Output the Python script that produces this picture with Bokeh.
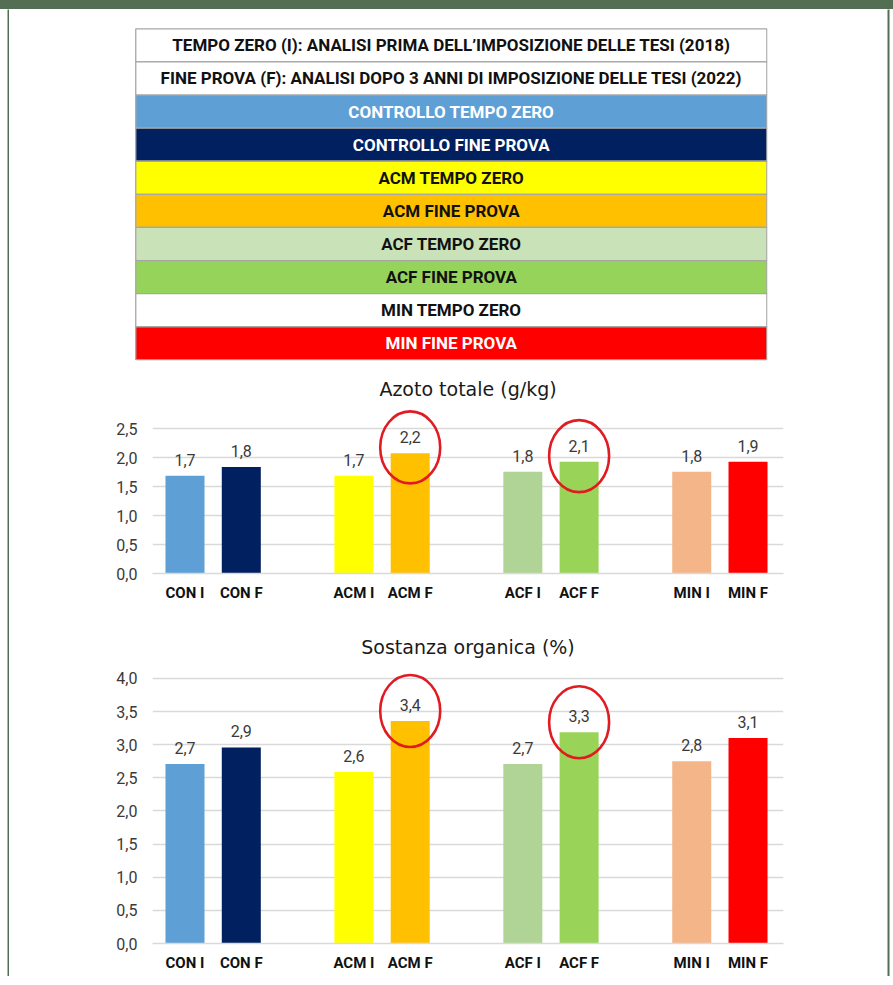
from bokeh.plotting import figure
from bokeh.layouts import column, row
from bokeh.models import Range1d, FixedTicker, ColumnDataSource, Div
from bokeh.embed import file_html
from bokeh.resources import INLINE
from bokeh.core.properties import value

# ---------------- data ----------------
table_labels = [
    "TEMPO ZERO (I): ANALISI PRIMA DELL\u2019IMPOSIZIONE DELLE TESI (2018)",
    "FINE PROVA (F): ANALISI DOPO 3 ANNI DI IMPOSIZIONE DELLE TESI (2022)",
    "CONTROLLO TEMPO ZERO",
    "CONTROLLO FINE PROVA",
    "ACM TEMPO ZERO",
    "ACM FINE PROVA",
    "ACF TEMPO ZERO",
    "ACF FINE PROVA",
    "MIN TEMPO ZERO",
    "MIN FINE PROVA",
]
table_fill = ["#FFFFFF", "#FFFFFF", "#5E9FD6", "#002060", "#FFFF00",
              "#FFC000", "#C9E2B8", "#96D35A", "#FFFFFF", "#FF0000"]
table_text_color = ["#111111", "#111111", "#FFFFFF", "#FFFFFF", "#111111",
                    "#111111", "#111111", "#111111", "#111111", "#FFFFFF"]

categories = ["CON I", "CON F", "ACM I", "ACM F", "ACF I", "ACF F", "MIN I", "MIN F"]
bar_colors = ["#5E9FD6", "#002060", "#FFFF00", "#FFC000",
              "#B0D495", "#99D458", "#F4B589", "#FF0000"]

azoto_values = [1.69, 1.84, 1.69, 2.08, 1.76, 1.93, 1.76, 1.93]
azoto_labels = ["1,7", "1,8", "1,7", "2,2", "1,8", "2,1", "1,8", "1,9"]
azoto_ticks = [0.0, 0.5, 1.0, 1.5, 2.0, 2.5]
azoto_tick_labels = ["0,0", "0,5", "1,0", "1,5", "2,0", "2,5"]

so_values = [2.71, 2.96, 2.59, 3.36, 2.71, 3.19, 2.75, 3.10]
so_labels = ["2,7", "2,9", "2,6", "3,4", "2,7", "3,3", "2,8", "3,1"]
so_ticks = [0.0, 0.5, 1.0, 1.5, 2.0, 2.5, 3.0, 3.5, 4.0]
so_tick_labels = ["0,0", "0,5", "1,0", "1,5", "2,0", "2,5", "3,0", "3,5", "4,0"]

highlighted = ["ACM F", "ACF F"]

SANS = "Roboto"
GREEN = "#546E53"
W = 878


def strip(w, h, lb, rb):
    s = figure(width=w, height=h, title=None, x_axis_location=None,
               y_axis_location=None, toolbar_location=None,
               output_backend="svg", min_border_left=lb, min_border_right=rb,
               min_border_top=0, min_border_bottom=0, outline_line_color=None,
               background_fill_color=GREEN, border_fill_color="#FFFFFF",
               frame_align=False)
    s.grid.visible = False
    return s


# ---------------- legend table ----------------
n = len(table_labels)
t = figure(width=W, height=361, title=None, x_range=Range1d(-0.002, 1.001),
           y_range=Range1d(n + 0.02, -0.04),
           x_axis_location=None, y_axis_location=None,
           toolbar_location=None, output_backend="svg",
           min_border_left=125, min_border_right=120,
           min_border_top=18, min_border_bottom=10,
           outline_line_color=None, frame_align=False)
t.grid.visible = False
rows = list(range(n))
tsrc = ColumnDataSource(dict(
    top=rows, bottom=[r + 1 for r in rows], mid=[r + 0.5 for r in rows],
    label=table_labels, fill=table_fill, tc=table_text_color))
t.quad(left=0, right=1, top="top", bottom="bottom", fill_color="fill",
       line_color="#A6A6A6", line_width=1.3, source=tsrc)
t.text(x=0.5, y="mid", text="label", text_color="tc", text_align="center",
       text_baseline="middle", text_font=value(SANS), text_font_size="17px",
       text_font_style="bold", source=tsrc)


# ---------------- bar charts ----------------
def make_chart(title, vals, labels, ticks, tick_labels, height, y_end,
               top_border, bottom_border, lift):
    xs = [i + i // 2 for i in range(len(categories))]
    p = figure(width=W, height=height, x_range=Range1d(-0.577, 10.63),
               y_range=Range1d(0, y_end), toolbar_location=None,
               output_backend="svg", min_border_left=143,
               min_border_right=104, min_border_top=top_border,
               min_border_bottom=bottom_border, outline_line_color=None,
               frame_align=False)
    p.title.text = title
    p.title.align = "center"
    p.title.text_font = "DejaVu Sans"
    p.title.text_font_size = "19px"
    p.title.text_font_style = "normal"
    p.title.text_color = "#1A1A1A"

    src = ColumnDataSource(dict(x=xs, top=vals, label=labels, color=bar_colors))
    p.vbar(x="x", top="top", bottom=0, width=0.693, fill_color="color",
           line_color=None, source=src)
    p.text(x="x", y="top", text="label", y_offset=-16, text_align="center",
           text_baseline="middle", text_font=value(SANS),
           text_font_size="16px", text_color="#3A3A3A", source=src)

    hx = [xs[categories.index(h)] for h in highlighted]
    hy = [vals[categories.index(h)] + lift for h in highlighted]
    p.ellipse(x=hx, y=hy, width=60, height=72, width_units="screen",
              height_units="screen", fill_color=None, line_color="#E11B22",
              line_width=2.6)

    p.xgrid.visible = False
    p.ygrid.ticker = FixedTicker(ticks=ticks)
    p.ygrid.grid_line_color = "#D9D9D9"
    p.ygrid.grid_line_width = 1.6

    p.yaxis.ticker = FixedTicker(ticks=ticks)
    p.yaxis.major_label_overrides = dict(zip(ticks, tick_labels))
    p.yaxis.axis_line_color = None
    p.yaxis.major_tick_line_color = None
    p.yaxis.minor_tick_line_color = None
    p.yaxis.major_tick_out = 0
    p.yaxis.major_tick_in = 0
    p.yaxis.minor_tick_out = 0
    p.yaxis.major_label_standoff = 15
    p.yaxis.major_label_text_font = SANS
    p.yaxis.major_label_text_font_size = "16px"
    p.yaxis.major_label_text_color = "#3A3A3A"

    p.xaxis.ticker = FixedTicker(ticks=xs)
    p.xaxis.major_label_overrides = dict(zip(xs, categories))
    p.xaxis.axis_line_color = "#D9D9D9"
    p.xaxis.axis_line_width = 1.6
    p.xaxis.major_tick_line_color = None
    p.xaxis.minor_tick_line_color = None
    p.xaxis.major_tick_out = 0
    p.xaxis.major_tick_in = 0
    p.xaxis.minor_tick_out = 0
    p.xaxis.major_label_standoff = 10
    p.xaxis.major_label_text_font = SANS
    p.xaxis.major_label_text_font_size = "15px"
    p.xaxis.major_label_text_font_style = "bold"
    p.xaxis.major_label_text_color = "#111111"
    return p


c1 = make_chart("Azoto totale (g/kg)", azoto_values, azoto_labels,
                azoto_ticks, azoto_tick_labels, height=240, y_end=2.922,
                top_border=32, bottom_border=37, lift=0.1)
c2 = make_chart("Sostanza organica (%)", so_values, so_labels,
                so_ticks, so_tick_labels, height=366, y_end=4.2415,
                top_border=52, bottom_border=33, lift=0.15)

main = column(t, c1, c2, spacing=0)
body_h = 361 + 240 + 366
top_bar = Div(text="", width=893, height=9,
              styles={"background-color": GREEN, "margin": "0", "padding": "0"})
left_line = strip(9, body_h, 7, 0)
right_line = strip(3, body_h, 0, 1)
layout = column(top_bar, row(left_line, main, right_line, spacing=0), spacing=0)
open("out.html", "w").write(file_html(layout, INLINE))
